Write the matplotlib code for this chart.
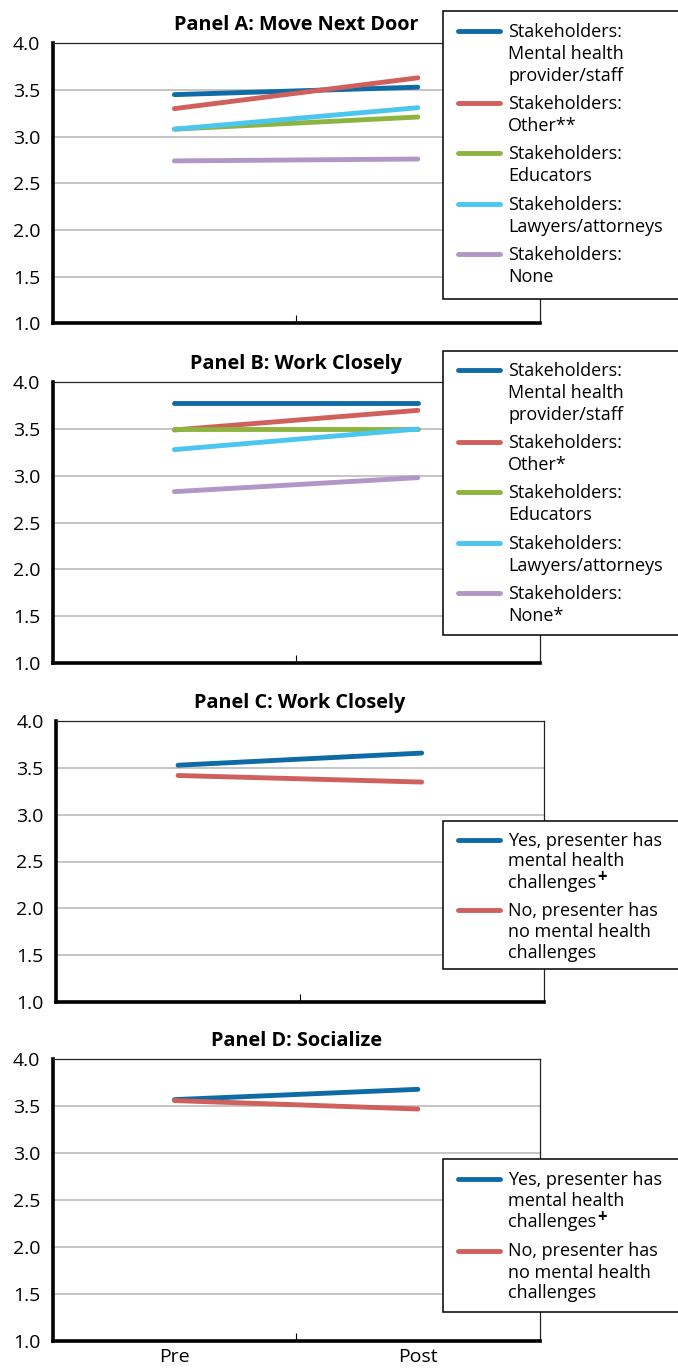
import matplotlib
matplotlib.use('Agg')
import matplotlib.pyplot as plt
from matplotlib.patches import Rectangle
from matplotlib.lines import Line2D
from matplotlib import font_manager

W, H = 678, 1368
fams = {f.name for f in font_manager.fontManager.ttflist}
FONT = 'Open Sans' if 'Open Sans' in fams else 'DejaVu Sans'
plt.rcParams['font.family'] = [FONT, 'DejaVu Sans']

# ---------------- data ----------------
x_labels = ['Pre', 'Post']
y_ticks = [1.0, 1.5, 2.0, 2.5, 3.0, 3.5, 4.0]

panel_titles = ['Panel A: Move Next Door', 'Panel B: Work Closely',
                'Panel C: Work Closely', 'Panel D: Socialize']

stakeholder_labels_a = [['Stakeholders:', 'Mental health', 'provider/staff'],
                        ['Stakeholders:', 'Other**'],
                        ['Stakeholders:', 'Educators'],
                        ['Stakeholders:', 'Lawyers/attorneys'],
                        ['Stakeholders:', 'None']]
stakeholder_labels_b = [['Stakeholders:', 'Mental health', 'provider/staff'],
                        ['Stakeholders:', 'Other*'],
                        ['Stakeholders:', 'Educators'],
                        ['Stakeholders:', 'Lawyers/attorneys'],
                        ['Stakeholders:', 'None*']]
presenter_labels = [['Yes, presenter has', 'mental health', 'challenges'],
                    ['No, presenter has', 'no mental health', 'challenges']]
presenter_marks = ['+', '']

panel_a_pre = [3.45, 3.30, 3.08, 3.08, 2.74]
panel_a_post = [3.53, 3.63, 3.21, 3.31, 2.76]
panel_b_pre = [3.78, 3.49, 3.50, 3.28, 2.83]
panel_b_post = [3.78, 3.70, 3.50, 3.50, 2.98]
panel_c_pre = [3.53, 3.42]
panel_c_post = [3.66, 3.35]
panel_d_pre = [3.57, 3.56]
panel_d_post = [3.68, 3.47]

stake_colors = ['#0F6BA6', '#CF605C', '#8CB43F', '#4BC6EF', '#B396C8']
pres_colors = ['#0F6BA6', '#CF605C']

# ---------------- layout (pixels) ----------------
def rect(l, t, r, b):
    return [l / W, 1 - b / H, (r - l) / W, (b - t) / H]

fig = plt.figure(figsize=(W / 100, H / 100), dpi=100)
fig.patch.set_facecolor('white')
renderer = fig.canvas.get_renderer()

axes_px = [(52.7, 43.3, 539.5, 323.3),
           (52.7, 382.3, 539.5, 662.7),
           (56.2, 721.3, 543.5, 1001.7),
           (52.7, 1059.3, 539.6, 1340.7)]

panels = [(panel_a_pre, panel_a_post, stake_colors, stakeholder_labels_a, None),
          (panel_b_pre, panel_b_post, stake_colors, stakeholder_labels_b, None),
          (panel_c_pre, panel_c_post, pres_colors, presenter_labels, presenter_marks),
          (panel_d_pre, panel_d_post, pres_colors, presenter_labels, presenter_marks)]

legend_boxes = [(10.7, 299.0), (350.7, 635.0), (820.7, 969.0), (1159.3, 1312.3)]
legend_rows = [[30.7, 103.3, 153.3, 204.0, 254.0],
               [369.5, 441.7, 492.3, 542.7, 593.3],
               [839.5, 910.0],
               [1179.0, 1250.5]]
legend_pitch = [22, 22, 21, 21]

xpos = [0.5, 1.5]

for i, (ax_px, (pre, post, colors, labels, marks)) in enumerate(zip(axes_px, panels)):
    ax = fig.add_axes(rect(*ax_px))
    for k in range(len(pre)):
        ax.plot(xpos, [pre[k], post[k]], color=colors[k], lw=3.5,
                solid_capstyle='round', zorder=3 + k * 0.01)
    ax.set_xlim(0, 2)
    ax.set_ylim(1.0, 4.0)
    ax.set_yticks(y_ticks)
    ax.set_yticklabels([f'{v:.1f}' for v in y_ticks])
    ax.yaxis.grid(True, color='#B5B5B5', lw=1.1)
    ax.set_axisbelow(True)
    ax.tick_params(axis='y', length=0, pad=9, labelsize=14, colors='black')
    ax.set_xticks(xpos)
    if i == 3:
        ax.set_xticklabels(x_labels)
    else:
        ax.set_xticklabels(['', ''])
    ax.tick_params(axis='x', which='major', length=0, pad=5.5, labelsize=14)
    ax.set_xticks([1.0], minor=True)
    ax.tick_params(axis='x', which='minor', direction='in', length=6, width=0.8,
                   color='black')
    for s in ['left', 'bottom']:
        ax.spines[s].set_linewidth(2.6)
        ax.spines[s].set_color('black')
    for s in ['top', 'right']:
        ax.spines[s].set_linewidth(0.9)
        ax.spines[s].set_color('#222222')
    ax.set_title(panel_titles[i], fontsize=14.3, fontweight='bold', pad=9.5)

    # legend box
    bt, bb = legend_boxes[i]
    l = 442.7
    fig.add_artist(Rectangle((l / W, 1 - bb / H), (700 - l) / W, (bb - bt) / H,
                             transform=fig.transFigure, facecolor='white',
                             edgecolor='black', lw=1.1, zorder=5))
    for k, lab in enumerate(labels):
        yc = legend_rows[i][k]
        fig.add_artist(Line2D([458 / W, 500 / W], [1 - yc / H, 1 - yc / H],
                              transform=fig.transFigure, color=colors[k], lw=3.5,
                              solid_capstyle='round', zorder=6))
        last = None
        for j, line in enumerate(lab):
            yb = yc + 6.0 + j * legend_pitch[i]
            last = fig.text(508 / W, 1 - yb / H, line, fontsize=13, va='baseline',
                            ha='left', zorder=7)
        if marks and marks[k]:
            bb_ = last.get_window_extent(renderer)
            fig.text((bb_.x1 + 1) / W, 1 - (yb - 5) / H, marks[k], fontsize=12,
                     fontweight='bold', va='baseline', ha='left', zorder=7)

fig.savefig('out.png', dpi=100, facecolor='white')
